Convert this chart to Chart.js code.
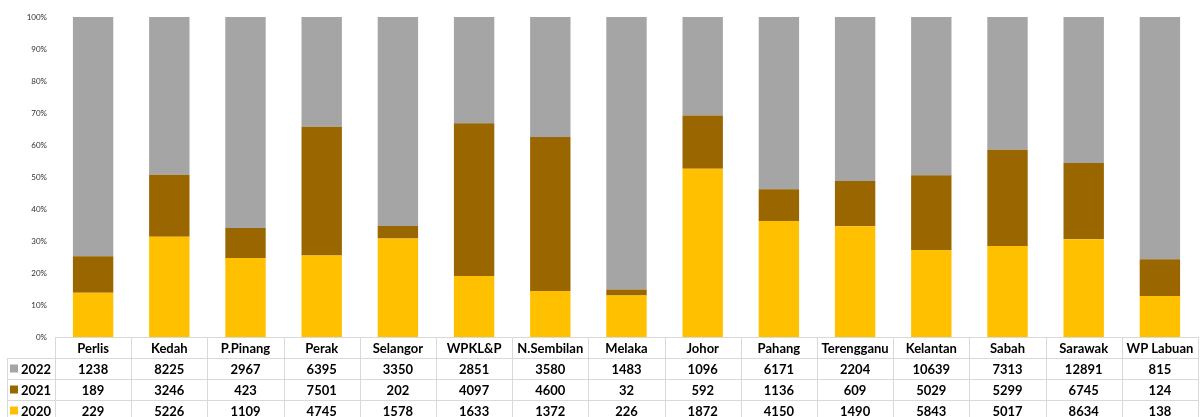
<!DOCTYPE html>
<html>
<head>
<meta charset="utf-8">
<script src="https://cdn.jsdelivr.net/npm/chart.js@4/dist/chart.umd.min.js"></script>
<style>
html,body{margin:0;padding:0;background:#fff;}
#wrap{width:1200px;height:417px;position:relative;}
</style>
</head>
<body>
<div id="wrap"><canvas id="c" width="1200" height="417"></canvas></div>
<script>
const categories = ['Perlis','Kedah','P.Pinang','Perak','Selangor','WPKL&P','N.Sembilan','Melaka','Johor','Pahang','Terengganu','Kelantan','Sabah','Sarawak','WP Labuan'];
const values2022 = [1238,8225,2967,6395,3350,2851,3580,1483,1096,6171,2204,10639,7313,12891,815];
const values2021 = [189,3246,423,7501,202,4097,4600,32,592,1136,609,5029,5299,6745,124];
const values2020 = [229,5226,1109,4745,1578,1633,1372,226,1872,4150,1490,5843,5017,8634,138];
const seriesLabels = ['2022','2021','2020'];
const yTicks = [0,10,20,30,40,50,60,70,80,90,100];

const totals = categories.map((_, i) => values2020[i] + values2021[i] + values2022[i]);
const pct = arr => arr.map((v, i) => v / totals[i] * 100);

const colors = {'2022':'#A5A5A5','2021':'#996600','2020':'#FFC000'};
const rawBySeries = {'2022':values2022,'2021':values2021,'2020':values2020};

const FONT = 'Lato, "Open Sans", sans-serif';

const tablePlugin = {
  id: 'dataTable',
  afterDraw(chart) {
    const ctx = chart.ctx;
    const x = chart.scales.x;
    const area = chart.chartArea;
    const n = categories.length;
    const colW = (area.right - area.left) / n;
    const top = area.bottom;
    const rowH = 21;
    const leftX = 7;
    ctx.save();
    ctx.strokeStyle = '#D9D9D9';
    ctx.lineWidth = 1;
    ctx.beginPath();
    ctx.moveTo(area.left, top + 0.5);
    ctx.lineTo(area.right, top + 0.5);
    for (let r = 1; r <= 4; r++) {
      const y = Math.round(top + r * rowH) + 0.5;
      ctx.moveTo(leftX, y);
      ctx.lineTo(area.right, y);
    }
    for (let c = 0; c <= n; c++) {
      const xx = Math.round(area.left + c * colW) + 0.5;
      ctx.moveTo(xx, top);
      ctx.lineTo(xx, top + 5 * rowH);
    }
    ctx.moveTo(leftX + 0.5, top + rowH);
    ctx.lineTo(leftX + 0.5, top + 5 * rowH);
    ctx.stroke();

    ctx.fillStyle = '#000';
    ctx.textAlign = 'center';
    ctx.textBaseline = 'middle';
    ctx.font = 'bold 13px ' + FONT;
    categories.forEach((cat, i) => {
      const cx = x.getPixelForValue(i);
      ctx.fillText(cat, cx, top + rowH / 2 + 1);
      seriesLabels.forEach((s, r) => {
        ctx.fillText(String(rawBySeries[s][i]), cx, top + (r + 1) * rowH + rowH / 2 + 1);
      });
    });
    ctx.textAlign = 'left';
    seriesLabels.forEach((s, r) => {
      const cy = top + (r + 1) * rowH + rowH / 2;
      ctx.fillStyle = colors[s];
      ctx.fillRect(10, cy - 4, 8, 8);
      ctx.fillStyle = '#000';
      ctx.font = 'bold 13px ' + FONT;
      ctx.fillText(s, 21, cy + 1);
    });
    ctx.restore();
  }
};

new Chart(document.getElementById('c'), {
  type: 'bar',
  data: {
    labels: categories,
    datasets: [
      {label:'2020', data: pct(values2020), backgroundColor: colors['2020'], barPercentage: 0.53, categoryPercentage: 1},
      {label:'2021', data: pct(values2021), backgroundColor: colors['2021'], barPercentage: 0.53, categoryPercentage: 1},
      {label:'2022', data: pct(values2022), backgroundColor: colors['2022'], barPercentage: 0.53, categoryPercentage: 1}
    ]
  },
  options: {
    responsive: false,
    animation: false,
    devicePixelRatio: 1,
    layout: {padding: {top: 17, right: 2, bottom: 80, left: 0}},
    plugins: {legend: {display: false}, tooltip: {enabled: false}, title: {display: false}},
    scales: {
      x: {stacked: true, display: false},
      y: {
        stacked: true, min: 0, max: 100,
        afterFit(scale) { scale.width = 55; },
        afterBuildTicks(scale) { scale.ticks = yTicks.map(v => ({value: v})); },
        grid: {display: false, drawTicks: false},
        border: {display: false},
        ticks: {
          padding: 8,
          color: '#303030',
          font: {size: 8, family: FONT},
          callback: v => v + '%'
        }
      }
    }
  },
  plugins: [tablePlugin]
});
</script>
</body>
</html>
